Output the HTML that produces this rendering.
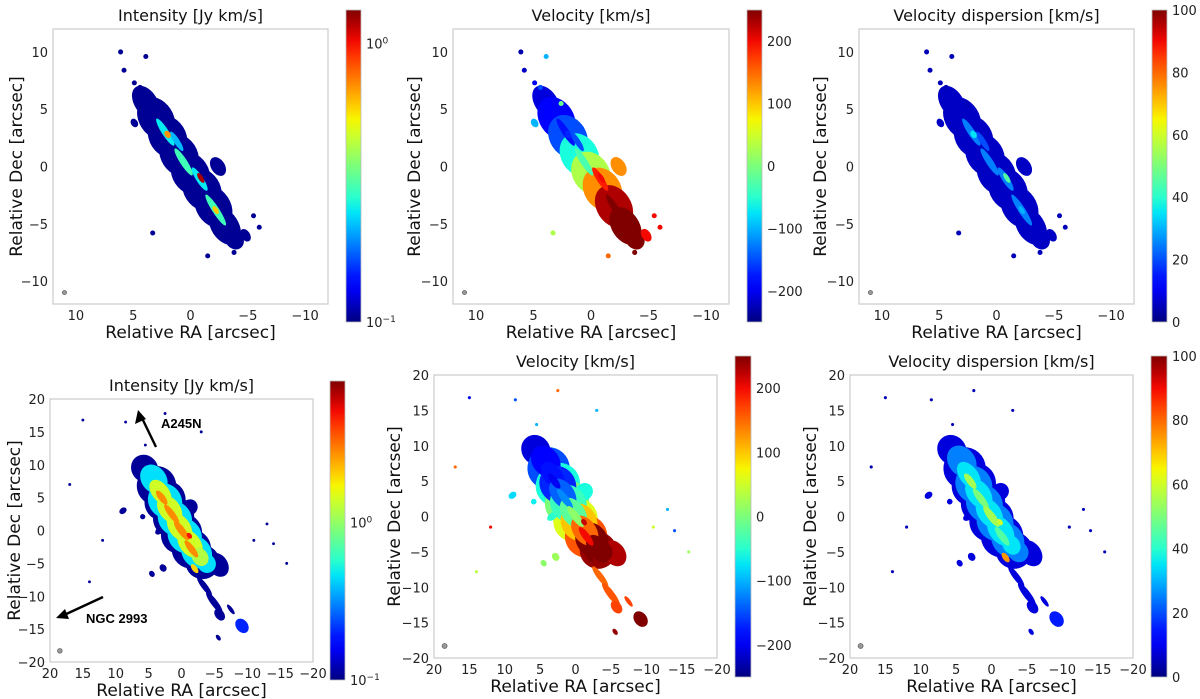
<!DOCTYPE html>
<html><head><meta charset="utf-8">
<style>
html,body{margin:0;padding:0;background:#fff;}
svg{display:block;font-family:"DejaVu Sans","Liberation Sans",sans-serif;}
</style></head>
<body>
<svg id="fig" width="1200" height="699" viewBox="0 0 1200 699" xmlns="http://www.w3.org/2000/svg"></svg>
<script>
// ---------- DATA ----------
const TOP_RA  = [3.9,3.0,2.0,1.0,0.0,-1.0,-2.0,-3.0,-3.8,-4.8, -2.4,4.9, 2.2,1.2,0.6,-0.8,-2.2, -0.9,2.0,-2.2];
const TOP_DEC = [5.6,4.2,2.6,1.0,-0.6,-2.0,-3.5,-5.2,-6.3,-6.0, 0.0,3.8, 3.0,2.2,0.4,-1.1,-3.8, -1.0,2.8,-3.8];
const TOP_A   = [1.6,2.0,2.0,2.0,2.0,2.0,2.0,1.8,1.0,0.6, 0.9,0.4, 1.4,1.0,1.4,1.2,1.6, 0.5,0.35,0.4];
const TOP_B   = [1.0,1.5,1.6,1.6,1.6,1.6,1.5,1.2,0.8,0.4, 0.6,0.3, 0.3,0.25,0.3,0.3,0.3, 0.2,0.25,0.2];
const TL_VAL  = [0.105,0.105,0.105,0.105,0.105,0.105,0.105,0.105,0.105,0.105, 0.105,0.105, 0.25,0.22,0.3,0.25,0.3, 1.2,0.7,0.6];
const TM_VAL  = [-210,-190,-150,-60,30,130,230,250,250,200, 130,-100, -180,-150,-30,190,250, 200,-170,250];
const TR_VAL  = [6,6,6,6,6,6,6,6,6,6, 6,6, 25,20,25,25,25, 45,35,30];
const TOP_SPECK_RA  = [6.1,3.9,5.8,4.9,4.4,3.3,-5.5,-6.0,-3.8,-1.5,2.6];
const TOP_SPECK_DEC = [10,9.6,8.4,7.3,6.9,-5.8,-4.3,-5.3,-7.5,-7.8,5.5];
const TL_SPECK = [0.105,0.105,0.105,0.105,0.105,0.105,0.105,0.105,0.105,0.105,0.105];
const TM_SPECK = [-230,-100,-220,-200,-150,30,200,200,250,150,-10];
const TR_SPECK = [5,5,5,5,5,5,5,5,5,5,5];

const BOT_RA  = [5.6,3.8,2.5,1.2,0.0,-1.5,-3.2,-5.5,-1.2, -3.5,-5.0,-5.8,-7.5,-9.2,-5.6, 8.9,3.3,5.9,2.8,4.5,
                 4.2,2.5,1.0,-0.5,-2.3,-3.8, 3.2,1.8,0.3,-1.3,-2.8, 3.0,1.5,0.0,-1.5,-1.2,-2.0];
const BOT_DEC = [9.4,6.8,4.5,2.0,-0.5,-2.8,-4.8,-5.2,3.5, -8.5,-11,-12.8,-12.0,-14.5,-16.3, 3.0,0.0,2.1,-5.7,-6.6,
                 7.8,4.5,1.8,-0.8,-3.3,-5.0, 5.8,3.2,0.5,-2.0,-4.0, 5.0,2.5,0.0,-2.8,-0.8,-5.8];
const BOT_A   = [2.2,3.0,3.0,3.0,3.0,3.0,2.6,2.0,1.2, 1.8,2.0,1.0,0.9,1.2,0.5, 0.45,0.5,0.4,0.6,0.5,
                 2.4,2.8,2.8,2.8,2.6,1.5, 2.2,2.4,2.4,2.4,1.5, 1.3,1.8,1.8,1.6,0.5,0.8];
const BOT_B   = [2.0,3.0,3.2,3.2,3.2,3.0,2.6,1.5,1.3, 0.45,0.5,0.7,0.3,0.9,0.3, 0.6,0.8,0.4,0.5,0.4,
                 1.9,2.5,2.5,2.5,2.2,1.4, 1.3,1.6,1.6,1.6,1.2, 0.5,0.5,0.55,0.5,0.35,0.4];
const BL_VAL  = [0.11,0.11,0.11,0.11,0.11,0.11,0.11,0.11,0.11, 0.11,0.11,0.11,0.11,0.2,0.11, 0.11,0.11,0.11,0.11,0.11,
                 0.45,0.45,0.45,0.45,0.45,0.45, 1.4,1.4,1.4,1.4,1.2, 2.8,2.8,2.8,2.8,5,2];
const BM_VAL  = [-210,-150,-60,0,60,160,240,230,-60, 150,160,170,170,250,240, -80,-50,-70,20,10,
                 -190,-170,-40,100,250,250, -180,-140,-20,150,250, -200,-120,10,200,220,250];
const BR_VAL  = [8,8,8,8,8,8,8,8,8, 8,8,8,8,15,8, 8,8,8,8,8,
                 25,25,25,25,25,25, 35,35,35,35,35, 55,50,55,45,60,75];
const BOT_SPECK_RA  = [15,8.5,2.5,-3,17,14,-14,-16,12,-13,5.5,-11];
const BOT_SPECK_DEC = [16.8,16.5,17.8,15,7,-7.8,-2,-5,-1.5,1,13,-1.5];
const BL_SPECK = [0.11,0.11,0.11,0.11,0.11,0.11,0.11,0.11,0.11,0.11,0.11,0.11];
const BM_SPECK = [-200,-150,150,-100,150,40,-150,20,200,-100,-100,50];
const BR_SPECK = [5,5,5,5,5,5,5,5,5,5,5,5];

const TOP_TICKS = [10,5,0,-5,-10];
const BOT_TICKS = [20,15,10,5,0,-5,-10,-15,-20];
const VEL_TICKS = [200,100,0,-100,-200];
const DISP_TICKS = [0,20,40,60,80,100];

// ---------- helpers ----------
const NS = "http://www.w3.org/2000/svg";
const svg = document.getElementById('fig');
function mk(tag, attrs, parent){
  const e = document.createElementNS(NS, tag);
  for (const k in attrs) e.setAttribute(k, attrs[k]);
  (parent||svg).appendChild(e);
  return e;
}
function jet(t){
  t = Math.max(0, Math.min(1, t));
  function interp(pts){
    for (let i=1;i<pts.length;i++){
      if (t <= pts[i][0]){const [x0,y0]=pts[i-1],[x1,y1]=pts[i];return y0+(y1-y0)*(t-x0)/(x1-x0);}
    }
    return pts[pts.length-1][1];
  }
  const r = interp([[0,0],[0.35,0],[0.66,1],[0.89,1],[1,0.5]]);
  const g = interp([[0,0],[0.125,0],[0.375,1],[0.64,1],[0.91,0],[1,0]]);
  const b = interp([[0,0.5],[0.11,1],[0.34,1],[0.65,0],[1,0]]);
  return `rgb(${Math.round(r*255)},${Math.round(g*255)},${Math.round(b*255)})`;
}
const fmt = v => (v<0 ? '\u2212'+Math.abs(v) : ''+v);
let gradId = 0;

function panel(p){
  const g = mk('g', {});
  
  
  const w = p.x1-p.x0, h = p.y1-p.y0;
  const sx = ra => p.x0 + (p.lim - ra) / (2*p.lim) * w;
  const sy = dec => p.y0 + (p.lim - dec) / (2*p.lim) * h;
  const scale = w/(2*p.lim);
  const cid = 'clip'+p.name;
  const cp = mk('clipPath', {id: cid}, g);
  mk('rect', {x:p.x0, y:p.y0, width:w, height:h}, cp);
  const mg = mk('g', {'clip-path':`url(#${cid})`}, g);
  
  
  for (let i=0;i<p.ra.length;i++){
    const cx = sx(p.ra[i]), cy = sy(p.dec[i]);
    const el = mk('ellipse', {cx:cx, cy:cy, rx:p.a[i]*scale, ry:p.b[i]*scale,
      transform:`rotate(${p.angle} ${cx} ${cy})`, fill: jet(p.norm(p.val[i]))}, mg);
    
    
  }
  for (let i=0;i<p.sra.length;i++){
    const el = mk('circle', {cx:sx(p.sra[i]), cy:sy(p.sdec[i]), r:Math.max(1.2,0.22*scale), fill: jet(p.norm(p.sval[i]))}, mg);
    
    
  }
  const beam = mk('circle', {cx:sx(p.beam[0]), cy:sy(p.beam[1]), r:p.beam[2]*scale, fill:'#999', stroke:'#666', 'stroke-width':0.8}, g);
  
  
  const fr = mk('rect', {x:p.x0, y:p.y0, width:w, height:h, fill:'none', stroke:'#cccccc', 'stroke-width':1.2}, g);
  
  
  p.ticks.forEach(t=>{
    const tx = mk('text', {x:sx(t), y:p.y1+16, 'text-anchor':'middle', 'font-size':13, fill:'#222'}, g);
    tx.textContent = fmt(t);
    
    
    const ty = mk('text', {x:p.x0-5, y:sy(t)+5, 'text-anchor':'end', 'font-size':13, fill:'#222'}, g);
    ty.textContent = fmt(t);
    
    
  });
  const ti = mk('text', {x:(p.x0+p.x1)/2, y:p.y0-8, 'text-anchor':'middle', 'font-size':16, fill:'#111'}, g);
  ti.textContent = p.title;
  
  
  const xl = mk('text', {x:(p.x0+p.x1)/2, y:p.y1+34, 'text-anchor':'middle', 'font-size':17, fill:'#111'}, g);
  xl.textContent = 'Relative RA [arcsec]';
  
  
  const yl = mk('text', {x:0, y:0, 'text-anchor':'middle', 'font-size':17, fill:'#111',
    transform:`translate(${p.ylx} ${(p.y0+p.y1)/2}) rotate(-90)`}, g);
  yl.textContent = 'Relative Dec [arcsec]';
  
  
  const gid = 'grad'+(gradId++);
  const lg = mk('linearGradient', {id:gid, x1:0, y1:1, x2:0, y2:0}, g);
  for (let i=0;i<=20;i++) mk('stop', {offset:i/20, 'stop-color':jet(i/20)}, lg);
  const cb = mk('rect', {x:p.cb[0], y:p.cb[1], width:p.cb[2]-p.cb[0], height:p.cb[3]-p.cb[1], fill:`url(#${gid})`, stroke:'#bbb', 'stroke-width':0.8}, g);
  
  
  p.cbticks.forEach(t=>{
    const y = p.cb[3] - p.norm(t.v)*(p.cb[3]-p.cb[1]);
    const tx = mk('text', {x:p.cb[2]+5, y:y+5, 'font-size':13, fill:'#222'}, g);
    if (t.sup!==undefined){
      tx.textContent = '10';
      const s = mk('tspan', {dy:-5, 'font-size':9}, tx);
      s.textContent = t.sup;
    } else tx.textContent = fmt(t.v);
    
    
  });
  return {g, sx, sy};
}

const logNorm = (lo,hi)=> v => (Math.log10(v)-lo)/(hi-lo);
const linNorm = (lo,hi)=> v => (v-lo)/(hi-lo);

const topCommon = {lim:12, angle:57, ra:TOP_RA, dec:TOP_DEC, a:TOP_A, b:TOP_B, sra:TOP_SPECK_RA, sdec:TOP_SPECK_DEC, ticks:TOP_TICKS, beam:[11,-11,0.18]};
const botCommon = {lim:20, angle:53, ra:BOT_RA, dec:BOT_DEC, a:BOT_A, b:BOT_B, sra:BOT_SPECK_RA, sdec:BOT_SPECK_DEC, ticks:BOT_TICKS, beam:[18.5,-18.3,0.35]};

panel(Object.assign({}, topCommon, {name:'intensity-top', x0:53,x1:328,y0:29,y1:304, ylx:22, title:'Intensity [Jy km/s]',
  val:TL_VAL, sval:TL_SPECK, norm:logNorm(-1,0.12), cb:[346,10,361,322], cbticks:[{v:1,sup:'0'},{v:0.1,sup:'\u22121'}]}));
panel(Object.assign({}, topCommon, {name:'velocity-top', x0:453,x1:729,y0:29,y1:304, ylx:420, title:'Velocity [km/s]',
  val:TM_VAL, sval:TM_SPECK, norm:linNorm(-250,250), cb:[747,10,762,322], cbticks:VEL_TICKS.map(v=>({v}))}));
panel(Object.assign({}, topCommon, {name:'dispersion-top', x0:859,x1:1134,y0:29,y1:304, ylx:826, title:'Velocity dispersion [km/s]',
  val:TR_VAL, sval:TR_SPECK, norm:linNorm(0,100), cb:[1152,10,1167,322], cbticks:DISP_TICKS.map(v=>({v}))}));
panel(Object.assign({}, botCommon, {name:'intensity-bottom', x0:50,x1:313,y0:399,y1:662, ylx:20, title:'Intensity [Jy km/s]',
  val:BL_VAL, sval:BL_SPECK, norm:logNorm(-1,0.9), cb:[330,381,345,680], cbticks:[{v:1,sup:'0'},{v:0.1,sup:'\u22121'}]}));
panel(Object.assign({}, botCommon, {name:'velocity-bottom', x0:434,x1:717,y0:375,y1:658, ylx:400, title:'Velocity [km/s]',
  val:BM_VAL, sval:BM_SPECK, norm:linNorm(-250,250), cb:[735,356,751,677], cbticks:VEL_TICKS.map(v=>({v}))}));
panel(Object.assign({}, botCommon, {name:'dispersion-bottom', x0:850,x1:1133,y0:375,y1:658, ylx:816, title:'Velocity dispersion [km/s]',
  val:BR_VAL, sval:BR_SPECK, norm:linNorm(0,100), cb:[1151,356,1167,677], cbticks:DISP_TICKS.map(v=>({v}))}));

const a1 = mk('line', {x1:156, y1:447, x2:141, y2:416, stroke:'#000', 'stroke-width':2.4});


const h1 = mk('path', {d:'M138,410 L135,424 L146,419 Z', fill:'#000'});


const t1 = mk('text', {x:161, y:428, 'font-size':13, 'font-weight':'bold', 'font-family':'Liberation Sans, sans-serif'});
t1.textContent = 'A245N';


const a2 = mk('line', {x1:103, y1:597, x2:62, y2:616, stroke:'#000', 'stroke-width':2.4});


const h2 = mk('path', {d:'M56,618 L65,609 L69,619 Z', fill:'#000'});


const t2 = mk('text', {x:86, y:623, 'font-size':13, 'font-weight':'bold', 'font-family':'Liberation Sans, sans-serif'});
t2.textContent = 'NGC 2993';


</script>
</body></html>
